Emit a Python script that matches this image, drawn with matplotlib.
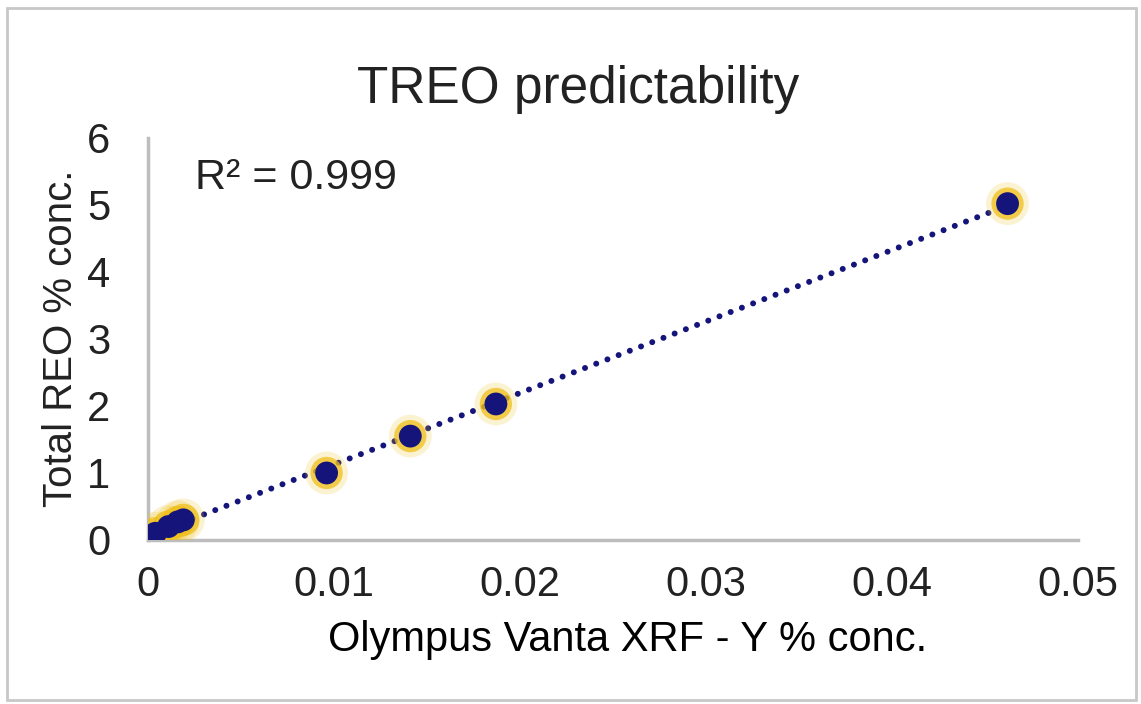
import matplotlib
matplotlib.use('Agg')
import matplotlib.pyplot as plt
from matplotlib.patches import Rectangle
import numpy as np

# data
xrf_y = [0.0004, 0.0011, 0.0016, 0.0019, 0.0096, 0.0141, 0.0187, 0.0462]
treo = [0.10, 0.20, 0.27, 0.30, 1.00, 1.55, 2.03, 5.02]
x_ticks = [0, 0.01, 0.02, 0.03, 0.04, 0.05]
x_tick_labels = ['0', '0.01', '0.02', '0.03', '0.04', '0.05']
y_ticks = [0, 1, 2, 3, 4, 5, 6]

NAVY = '#14147a'
GOLD = '#efbf1a'
SPINE = '#bdbdbd'
TEXT = '#222222'

plt.rcParams.update({
    'font.family': ['Liberation Sans', 'DejaVu Sans'],
    'text.color': TEXT,
    'xtick.color': TEXT,
    'ytick.color': TEXT,
})

fig = plt.figure(figsize=(11.41, 7.04), dpi=100)
ax = fig.add_axes([0.1297, 0.233, 0.8153, 0.571])

# trendline
slope, intercept = np.polyfit(xrf_y, treo, 1)
xs = np.array([0, max(xrf_y)])
ax.plot(xs, slope * xs + intercept, color=NAVY, linestyle=(0, (0.01, 2.0)),
        linewidth=4.3, dash_capstyle='round', zorder=2)

# markers with golden glow
ax.scatter(xrf_y, treo, s=950, color=GOLD, alpha=0.2, edgecolors='none', zorder=3)
ax.scatter(xrf_y, treo, s=540, color=GOLD, alpha=0.75, edgecolors='none', zorder=3)
ax.scatter(xrf_y, treo, s=270, color=NAVY, edgecolors='none', zorder=4)

ax.set_xlim(0, 0.05)
ax.set_ylim(0, 6)
ax.set_xticks(x_ticks)
ax.set_xticklabels(x_tick_labels)
ax.set_yticks(y_ticks)
ax.tick_params(length=0, labelsize=30)
ax.tick_params(axis='x', pad=18)
ax.tick_params(axis='y', pad=27)

for side in ['top', 'right']:
    ax.spines[side].set_visible(False)
for side in ['left', 'bottom']:
    ax.spines[side].set_color(SPINE)
    ax.spines[side].set_linewidth(2.5)

ax.set_title('TREO predictability', fontsize=37, pad=25, x=0.462)
ax.set_xlabel('Olympus Vanta XRF - Y % conc.', fontsize=30)
ax.xaxis.set_label_coords(0.516, -0.2)
fig.text(61 / 1141, 1 - 338 / 704, 'Total REO % conc.', fontsize=29,
         rotation=90, ha='center', va='center')

ax.text(0.05, 0.9, 'R² = 0.999', transform=ax.transAxes, fontsize=31,
        ha='left', va='center')

# outer chart border
fig.patches.append(Rectangle((0.006, 0.006), 0.99, 0.983, transform=fig.transFigure,
                             fill=False, edgecolor='#c8c8c8', linewidth=2))

fig.savefig('out.png', dpi=100, facecolor='white')
